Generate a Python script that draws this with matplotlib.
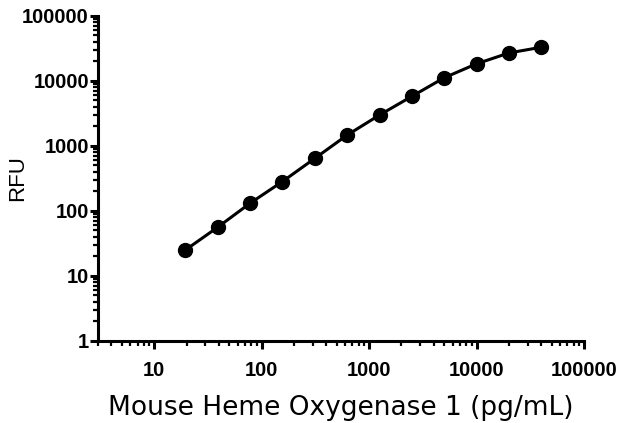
import matplotlib
matplotlib.use('Agg')
import matplotlib.pyplot as plt
from matplotlib.ticker import LogLocator, FixedLocator, NullFormatter

# concentration (pg/mL) and signal (RFU)
conc = [19.53, 39.06, 78.13, 156.25, 312.5, 625, 1250, 2500, 5000, 10000, 20000, 40000]
rfu = [25, 56, 131, 282, 640, 1460, 2970, 5750, 11100, 18200, 26700, 32700]

x_ticks = [10, 100, 1000, 10000, 100000]
y_ticks = [1, 10, 100, 1000, 10000, 100000]

plt.rcParams['font.family'] = 'Liberation Sans'

fig = plt.figure(figsize=(6.2, 4.23), dpi=100)
ax = fig.add_axes([0.158, 0.194, 0.784, 0.769])

ax.plot(conc, rfu, color='black', linewidth=2.2, marker='o', markersize=10,
        clip_on=False, zorder=3)

ax.set_xscale('log')
ax.set_yscale('log')
ax.set_xlim(3, 100000)
ax.set_ylim(1, 100000)

ax.xaxis.set_major_locator(FixedLocator(x_ticks))
ax.yaxis.set_major_locator(FixedLocator(y_ticks))
ax.set_xticklabels([str(t) for t in x_ticks], fontweight='bold', fontsize=14.5)
ax.set_yticklabels([str(t) for t in y_ticks], fontweight='bold', fontsize=14.5)
ax.xaxis.set_minor_locator(LogLocator(base=10, subs=range(2, 10), numticks=20))
ax.yaxis.set_minor_locator(LogLocator(base=10, subs=range(2, 10), numticks=20))
ax.xaxis.set_minor_formatter(NullFormatter())
ax.yaxis.set_minor_formatter(NullFormatter())

ax.tick_params(which='major', direction='out', length=5.5, width=2.2)
ax.tick_params(which='minor', direction='out', length=3.3, width=1.6)
ax.tick_params(axis='y', which='major', pad=1)
ax.tick_params(axis='x', which='major', pad=9)

ax.spines['top'].set_visible(False)
ax.spines['right'].set_visible(False)
ax.spines['left'].set_linewidth(2.2)
ax.spines['bottom'].set_linewidth(2.2)

ax.set_xlabel('Mouse Heme Oxygenase 1 (pg/mL)', fontfamily='DejaVu Sans', fontsize=19, labelpad=11)
ax.set_ylabel('RFU', fontsize=16)
ax.yaxis.set_label_coords(-0.143, 0.5)

fig.savefig('out.png', dpi=100)
